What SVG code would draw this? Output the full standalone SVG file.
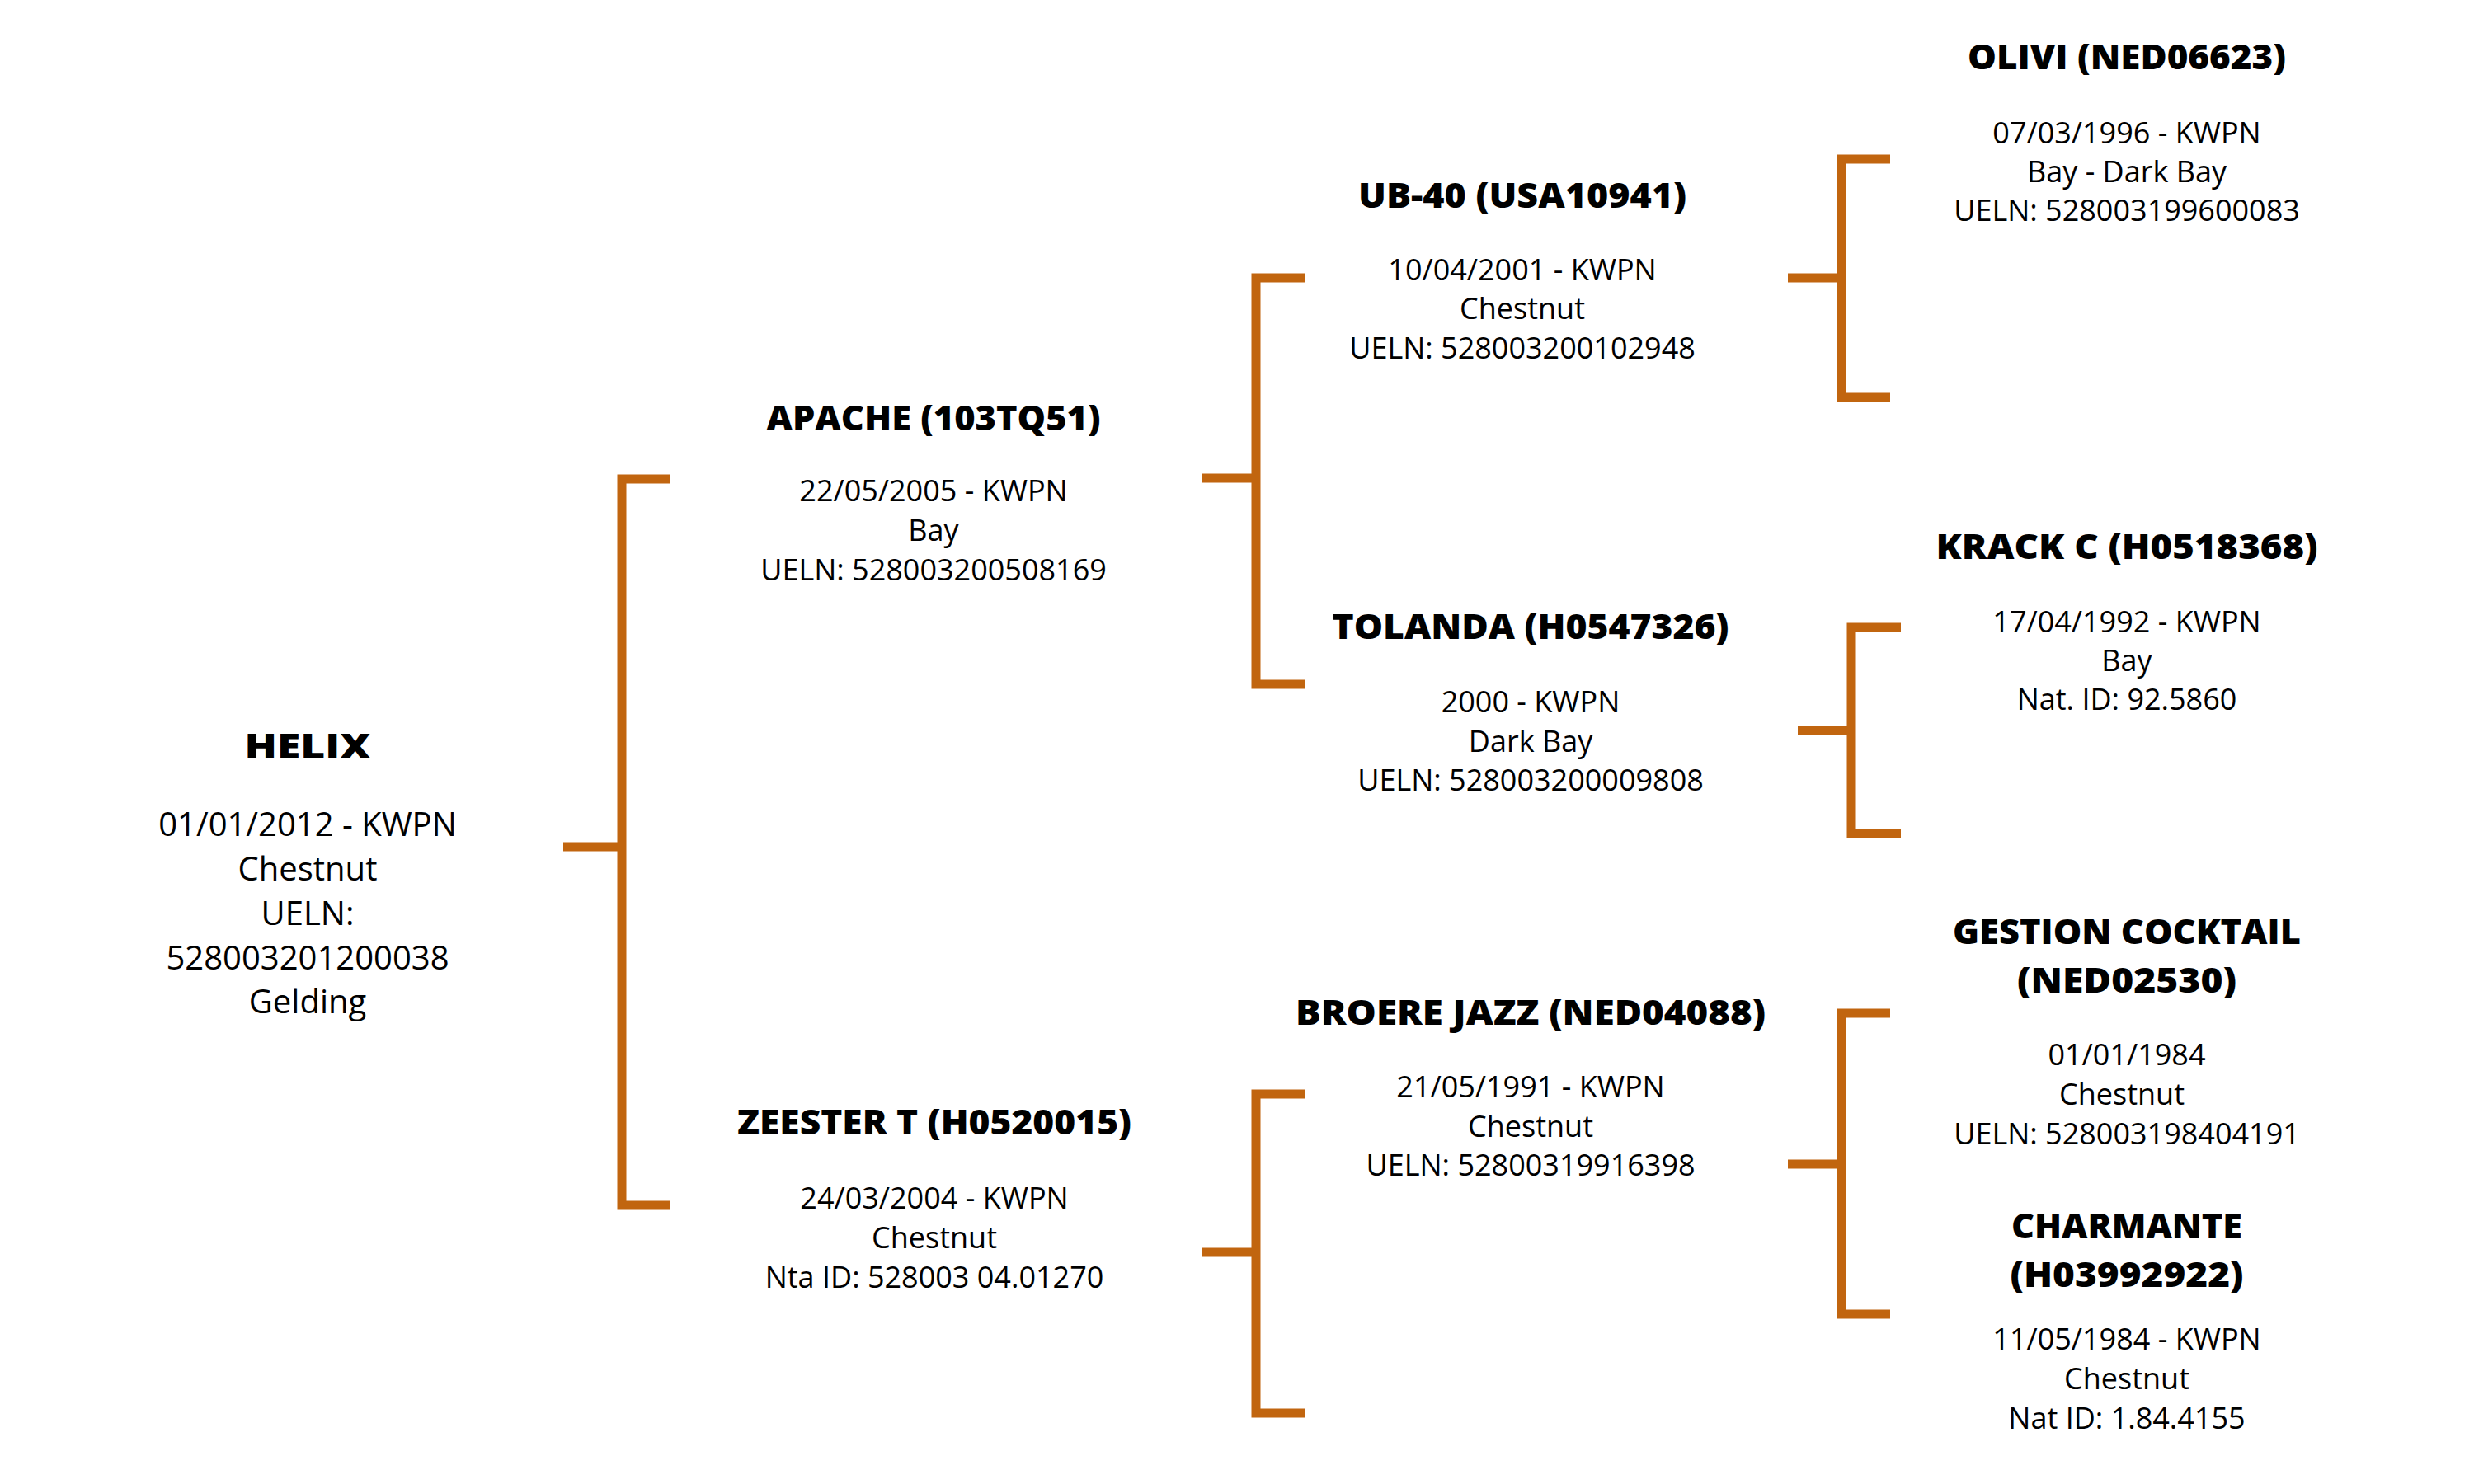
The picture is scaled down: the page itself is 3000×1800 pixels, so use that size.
<svg xmlns="http://www.w3.org/2000/svg" width="3000" height="1800" viewBox="0 0 3000 1800">
<style>
.t{font-family:"Open Sans","Noto Sans","DejaVu Sans",sans-serif;font-weight:800;fill:#000;text-anchor:middle;font-size:43px}
.b{font-family:"Open Sans","Noto Sans","DejaVu Sans",sans-serif;font-weight:400;fill:#000;text-anchor:middle;font-size:36px}
.hb{font-size:40px}
.conn path{fill:none;stroke:#C1650F;stroke-width:11;stroke-linecap:butt;stroke-linejoin:miter}
</style>
<rect width="3000" height="1800" fill="#ffffff"/>
<g class="conn" id="connectors">
<path d="M683 1027H754M813 581H754V1462H813"/>
<path d="M1458 580H1523M1582 337H1523V830H1582"/>
<path d="M1458 1519H1523M1582 1327H1523V1714H1582"/>
<path d="M2168 337H2233M2292 193H2233V482H2292"/>
<path d="M2180 886H2245M2305 761H2245V1011H2305"/>
<path d="M2168 1412H2233M2292 1229H2233V1594H2292"/>
</g>
<g id="helix">
<text class="t" x="373" y="920" font-size="63" textLength="153" lengthAdjust="spacingAndGlyphs">HELIX</text>
<text class="b hb" x="373" y="1014">01/01/2012 - KWPN</text>
<text class="b hb" x="373" y="1068">Chestnut</text>
<text class="b hb" x="373" y="1122">UELN:</text>
<text class="b hb" x="373" y="1176">528003201200038</text>
<text class="b hb" x="373" y="1229">Gelding</text>
</g>
<g id="apache">
<text class="t" x="1132" y="522" textLength="405" lengthAdjust="spacingAndGlyphs">APACHE (103TQ51)</text>
<text class="b" x="1132" y="608">22/05/2005 - KWPN</text>
<text class="b" x="1132" y="656">Bay</text>
<text class="b" x="1132" y="704">UELN: 528003200508169</text>
</g>
<g id="zeester">
<text class="t" x="1133" y="1376" textLength="478" lengthAdjust="spacingAndGlyphs">ZEESTER T (H0520015)</text>
<text class="b" x="1133" y="1466">24/03/2004 - KWPN</text>
<text class="b" x="1133" y="1514">Chestnut</text>
<text class="b" x="1133" y="1562">Nta ID: 528003 04.01270</text>
</g>
<g id="ub40">
<text class="t" x="1846" y="252" textLength="398" lengthAdjust="spacingAndGlyphs">UB-40 (USA10941)</text>
<text class="b" x="1846" y="340">10/04/2001 - KWPN</text>
<text class="b" x="1846" y="387">Chestnut</text>
<text class="b" x="1846" y="435">UELN: 528003200102948</text>
</g>
<g id="tolanda">
<text class="t" x="1856" y="775" textLength="481" lengthAdjust="spacingAndGlyphs">TOLANDA (H0547326)</text>
<text class="b" x="1856" y="864">2000 - KWPN</text>
<text class="b" x="1856" y="912">Dark Bay</text>
<text class="b" x="1856" y="959">UELN: 528003200009808</text>
</g>
<g id="broere">
<text class="t" x="1856" y="1243" textLength="570" lengthAdjust="spacingAndGlyphs">BROERE JAZZ (NED04088)</text>
<text class="b" x="1856" y="1331">21/05/1991 - KWPN</text>
<text class="b" x="1856" y="1379">Chestnut</text>
<text class="b" x="1856" y="1426">UELN: 52800319916398</text>
</g>
<g id="olivi">
<text class="t" x="2579" y="84" textLength="386" lengthAdjust="spacingAndGlyphs">OLIVI (NED06623)</text>
<text class="b" x="2579" y="174">07/03/1996 - KWPN</text>
<text class="b" x="2579" y="221">Bay - Dark Bay</text>
<text class="b" x="2579" y="268">UELN: 528003199600083</text>
</g>
<g id="krack">
<text class="t" x="2579" y="678" textLength="463" lengthAdjust="spacingAndGlyphs">KRACK C (H0518368)</text>
<text class="b" x="2579" y="767">17/04/1992 - KWPN</text>
<text class="b" x="2579" y="814">Bay</text>
<text class="b" x="2579" y="861">Nat. ID: 92.5860</text>
</g>
<g id="gestion">
<text class="t" x="2579" y="1145" textLength="422" lengthAdjust="spacingAndGlyphs">GESTION COCKTAIL</text>
<text class="t" x="2579" y="1204" textLength="266" lengthAdjust="spacingAndGlyphs">(NED02530)</text>
<text class="b" x="2579" y="1292">01/01/1984</text>
<text class="b" x="2573" y="1340">Chestnut</text>
<text class="b" x="2579" y="1388">UELN: 528003198404191</text>
</g>
<g id="charmante">
<text class="t" x="2579" y="1502" textLength="280" lengthAdjust="spacingAndGlyphs">CHARMANTE</text>
<text class="t" x="2579" y="1561" textLength="283" lengthAdjust="spacingAndGlyphs">(H03992922)</text>
<text class="b" x="2579" y="1637">11/05/1984 - KWPN</text>
<text class="b" x="2579" y="1685">Chestnut</text>
<text class="b" x="2579" y="1733">Nat ID: 1.84.4155</text>
</g>
</svg>
